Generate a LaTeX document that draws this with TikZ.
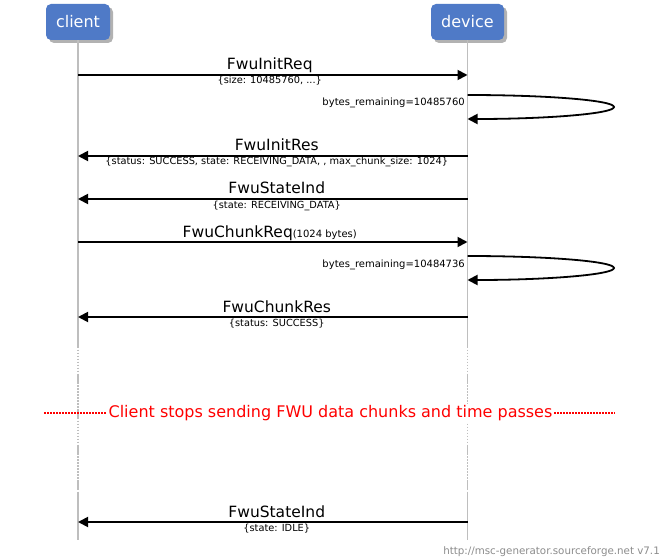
\documentclass[tikz,border=0pt]{standalone}
\usepackage{fontspec}
\setmainfont{DejaVu Sans}
\usetikzlibrary{arrows.meta,shadows}
\definecolor{hdrblue}{RGB}{79,122,199}
\definecolor{lifegray}{RGB}{190,190,190}
\definecolor{divred}{RGB}{255,0,0}
\begin{document}
\begin{tikzpicture}[x=1pt,y=-1pt,
  hdr/.style={fill=hdrblue,rounded corners=5pt,text=white,font=\fontsize{16}{18}\selectfont,
    minimum height=36pt,inner sep=0pt,
    drop shadow={shadow xshift=3pt,shadow yshift=-3pt,fill=black,opacity=0.3}},
  life/.style={lifegray,line width=1.8pt},
  lifebreak/.style={lifegray,line width=1.8pt,
    dash pattern=on 10pt off 1.5pt on 1.5pt off 1.5pt on 1.5pt off 1.5pt on 1.5pt off 1.5pt on 1.5pt off 1.5pt on 1.5pt off 1.5pt on 1.5pt off 1.5pt on 1.5pt off 1.5pt on 1.5pt off 1.5pt},
  msg/.style={line width=1.8pt,-{Triangle[length=10pt,width=10pt]}},
  lbl/.style={font=\fontsize{15.5}{18}\selectfont,anchor=base,inner sep=0pt},
  sublbl/.style={font=\fontsize{9.8}{11}\selectfont,anchor=base,inner sep=0pt},
  selflbl/.style={font=\fontsize{10}{11}\selectfont,anchor=base east,inner sep=0pt},
  divtxt/.style={font=\fontsize{16}{18}\selectfont,text=divred,fill=white,inner xsep=2pt,inner ysep=1pt},
  foot/.style={font=\fontsize{10.3}{12}\selectfont,text=black!45,anchor=base east,inner sep=0pt}
]
\useasboundingbox (0,0) rectangle (662,559);
\fill[white] (0,0) rectangle (662,559);

% headers
\node[hdr,minimum width=64pt] (client) at (78,22) {client};
\node[hdr,minimum width=73pt] (device) at (467.5,22) {device};

% lifeline coordinates
\coordinate (cb1) at (78,338);
\coordinate (cb2) at (78,493);
\coordinate (cend) at (78,540);
\coordinate (db1) at (467.5,338);
\coordinate (db2) at (467.5,493);
\coordinate (dend) at (467.5,540);

\draw[life] (client.south) -- (cb1);
\draw[lifebreak] (cb1) -- (cb2);
\draw[life] (cb2) -- (cend);
\draw[life] (device.south) -- (db1);
\draw[lifebreak] (db1) -- (db2);
\draw[life] (db2) -- (dend);

% message coordinates
\coordinate (c1) at (78,75);   \coordinate (d1) at (467.5,75);
\coordinate (s1) at (467.5,95); \coordinate (e1) at (467.5,119);
\coordinate (c3) at (78,156);  \coordinate (d3) at (467.5,156);
\coordinate (c4) at (78,199);  \coordinate (d4) at (467.5,199);
\coordinate (c5) at (78,242);  \coordinate (d5) at (467.5,242);
\coordinate (s6) at (467.5,256); \coordinate (e6) at (467.5,280);
\coordinate (c7) at (78,317);  \coordinate (d7) at (467.5,317);
\coordinate (c9) at (78,522);  \coordinate (d9) at (467.5,522);

% FwuInitReq
\draw[msg] (c1) -- (d1)
  node[lbl,midway,xshift=-3pt,yshift=5pt] (m1) {FwuInitReq}
  node[sublbl,midway,xshift=-3pt,yshift=-9pt] (m1s) {\{size: 10485760, ...\}};

% self 1
\draw[msg] (s1) .. controls (548,95) and (614,100.4) .. (614,107)
  .. controls (614,113.6) and (548,119) .. (e1);
\node[selflbl] (r1) at (465,106) {bytes\_remaining=10485760};

% FwuInitRes
\draw[msg] (d3) -- (c3)
  node[lbl,midway,xshift=4pt,yshift=5pt] (m3) {FwuInitRes}
  node[sublbl,midway,xshift=4pt,yshift=-9pt] (m3s) {\{status: SUCCESS, state: RECEIVING\_DATA, , max\_chunk\_size: 1024\}};

% FwuStateInd
\draw[msg] (d4) -- (c4)
  node[lbl,midway,xshift=4pt,yshift=5pt] (m4) {FwuStateInd}
  node[sublbl,midway,xshift=4pt,yshift=-9pt] (m4s) {\{state: RECEIVING\_DATA\}};

% FwuChunkReq
\draw[msg] (c5) -- (d5)
  node[lbl,midway,xshift=-3pt,yshift=5pt] (m5) {FwuChunkReq{\fontsize{10}{11}\selectfont(1024 bytes)}};

% self 2
\draw[msg] (s6) .. controls (548,256) and (614,261.4) .. (614,268)
  .. controls (614,274.6) and (548,280) .. (e6);
\node[selflbl] (r6) at (465,267) {bytes\_remaining=10484736};

% FwuChunkRes
\draw[msg] (d7) -- (c7)
  node[lbl,midway,xshift=4pt,yshift=5pt] (m7) {FwuChunkRes}
  node[sublbl,midway,xshift=4pt,yshift=-9pt] (m7s) {\{status: SUCCESS\}};

% divider
\coordinate (dl) at (44,413);
\coordinate (dr) at (615,413);
\draw[divred,line width=1.1pt,dash pattern=on 1.5pt off 1.5pt] (dl) -- (dr);
\node[divtxt] (div) at (330.5,413) {Client stops sending FWU data chunks and time passes};

% FwuStateInd (idle)
\draw[msg] (d9) -- (c9)
  node[lbl,midway,xshift=4pt,yshift=5pt] (m9) {FwuStateInd}
  node[sublbl,midway,xshift=4pt,yshift=-9pt] (m9s) {\{state: IDLE\}};

% footer
\node[foot] (footer) at (660,554) {http://msc-generator.sourceforge.net v7.1};
\end{tikzpicture}
\end{document}
